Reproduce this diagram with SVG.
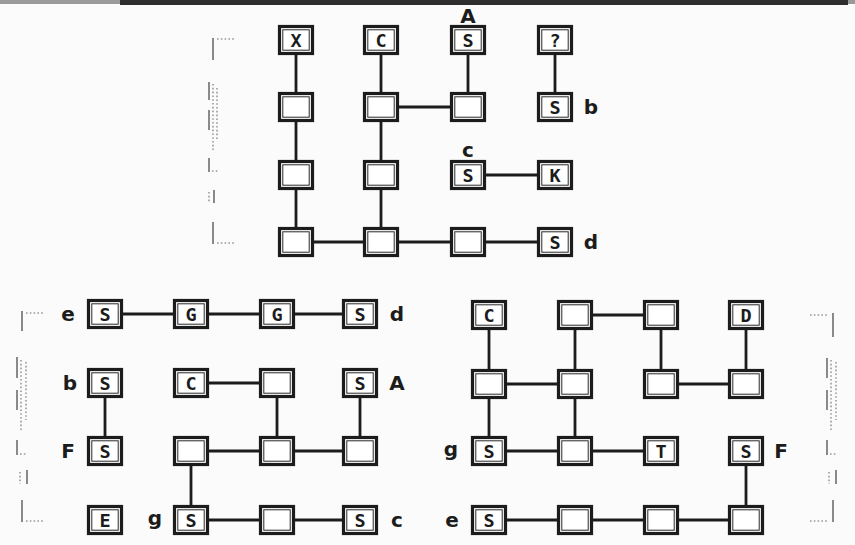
<svg xmlns="http://www.w3.org/2000/svg" xmlns:xlink="http://www.w3.org/1999/xlink" width="855" height="545" viewBox="0 0 855 545">
<style>
.bg{fill:#fbfbfb}
.con line{stroke:#1c1c1c;stroke-width:2.8;stroke-linecap:square}
.ob{fill:#ffffff;stroke:#1c1c1c;stroke-width:3.2}
.ib{fill:none;stroke:#2a2a2a;stroke-width:1}
.t{font-family:"DejaVu Sans Mono","Liberation Mono",monospace;font-weight:bold;font-size:18.5px;fill:#1c1c1c;text-anchor:middle}
.l{font-family:"DejaVu Sans","Liberation Sans",sans-serif;font-weight:bold;font-size:20px;fill:#1c1c1c;text-anchor:middle}
.br line{stroke:#8a8a8a;stroke-width:2}
.br .d{stroke:#9a9a9a;stroke-width:1.6;stroke-dasharray:1.6 2.2}
</style>
<defs>
<g id="box"><rect class="ob" x="-16.5" y="-13.5" width="33" height="27"/><rect class="ib" x="-13.2" y="-10.2" width="26.4" height="20.4"/></g>
</defs>
<rect class="bg" x="0" y="0" width="855" height="545"/>
<rect x="0" y="0" width="855" height="4" fill="#9a9a9a"/>
<rect x="120" y="0" width="728" height="5" fill="#2e2e2e"/>

<g id="brackets" class="br">
<line x1="213" y1="38" x2="213" y2="60"/><line class="d" x1="217" y1="39" x2="234" y2="39"/>
<line x1="209" y1="82" x2="209" y2="100"/><line class="d" x1="213" y1="84" x2="213" y2="150"/><line class="d" x1="217" y1="88" x2="217" y2="140"/><line x1="209" y1="110" x2="209" y2="130"/>
<line x1="209" y1="158" x2="209" y2="172"/><line class="d" x1="212" y1="171" x2="218" y2="171"/>
<line x1="214" y1="190" x2="214" y2="203"/><line class="d" x1="209" y1="192" x2="209" y2="203"/>
<line x1="213" y1="222" x2="213" y2="244"/><line class="d" x1="217" y1="243" x2="236" y2="243"/>
<line x1="22" y1="311" x2="22" y2="331"/><line class="d" x1="26" y1="313" x2="43" y2="313"/>
<line x1="17" y1="357" x2="17" y2="378"/><line class="d" x1="21" y1="360" x2="21" y2="430"/><line class="d" x1="26" y1="362" x2="26" y2="420"/><line x1="17" y1="390" x2="17" y2="410"/>
<line x1="17" y1="440" x2="17" y2="455"/><line class="d" x1="20" y1="454" x2="27" y2="454"/>
<line x1="27" y1="470" x2="27" y2="484"/><line class="d" x1="20" y1="472" x2="20" y2="484"/>
<line x1="22" y1="500" x2="22" y2="522"/><line class="d" x1="26" y1="521" x2="44" y2="521"/>
<line x1="833" y1="313" x2="833" y2="337"/><line class="d" x1="810" y1="315" x2="829" y2="315"/>
<line x1="827" y1="358" x2="827" y2="378"/><line class="d" x1="831" y1="360" x2="831" y2="430"/><line class="d" x1="836" y1="362" x2="836" y2="420"/><line x1="827" y1="390" x2="827" y2="410"/>
<line x1="827" y1="440" x2="827" y2="455"/><line class="d" x1="830" y1="454" x2="836" y2="454"/>
<line x1="836" y1="470" x2="836" y2="484"/><line class="d" x1="829" y1="472" x2="829" y2="484"/>
<line x1="833" y1="500" x2="833" y2="522"/><line class="d" x1="810" y1="521" x2="829" y2="521"/>
</g>

<g id="connectors" class="con">
<line x1="296" y1="40" x2="296" y2="242"/>
<line x1="381" y1="40" x2="381" y2="242"/>
<line x1="381" y1="107" x2="468" y2="107"/>
<line x1="468" y1="40" x2="468" y2="107"/>
<line x1="555" y1="40" x2="555" y2="107"/>
<line x1="468" y1="175" x2="555" y2="175"/>
<line x1="296" y1="242" x2="555" y2="242"/>
<line x1="105" y1="314" x2="360" y2="314"/>
<line x1="105" y1="383" x2="105" y2="451"/>
<line x1="191" y1="383" x2="277" y2="383"/>
<line x1="277" y1="383" x2="277" y2="451"/>
<line x1="360" y1="383" x2="360" y2="451"/>
<line x1="191" y1="451" x2="360" y2="451"/>
<line x1="191" y1="451" x2="191" y2="520"/>
<line x1="191" y1="520" x2="360" y2="520"/>
<line x1="489" y1="315" x2="489" y2="451"/>
<line x1="489" y1="384" x2="575" y2="384"/>
<line x1="575" y1="315" x2="575" y2="451"/>
<line x1="575" y1="315" x2="661" y2="315"/>
<line x1="661" y1="315" x2="661" y2="384"/>
<line x1="661" y1="384" x2="746" y2="384"/>
<line x1="746" y1="315" x2="746" y2="384"/>
<line x1="489" y1="451" x2="661" y2="451"/>
<line x1="746" y1="451" x2="746" y2="520"/>
<line x1="489" y1="520" x2="746" y2="520"/>
</g>

<g id="t11"><use xlink:href="#box" x="296" y="40"/><text class="t" x="296" y="47">X</text></g>
<g id="t12"><use xlink:href="#box" x="381" y="40"/><text class="t" x="381" y="47">C</text></g>
<g id="t13"><use xlink:href="#box" x="468" y="40"/><text class="t" x="468" y="47">S</text><text class="l" x="468" y="23">A</text></g>
<g id="t14"><use xlink:href="#box" x="555" y="40"/><text class="t" x="555" y="47">?</text></g>
<g id="t21"><use xlink:href="#box" x="296" y="107"/></g>
<g id="t22"><use xlink:href="#box" x="381" y="107"/></g>
<g id="t23"><use xlink:href="#box" x="468" y="107"/></g>
<g id="t24"><use xlink:href="#box" x="555" y="107"/><text class="t" x="555" y="114">S</text><text class="l" x="591" y="114">b</text></g>
<g id="t31"><use xlink:href="#box" x="296" y="175"/></g>
<g id="t32"><use xlink:href="#box" x="381" y="175"/></g>
<g id="t33"><use xlink:href="#box" x="468" y="175"/><text class="t" x="468" y="182">S</text><text class="l" x="468" y="157">c</text></g>
<g id="t34"><use xlink:href="#box" x="555" y="175"/><text class="t" x="555" y="182">K</text></g>
<g id="t41"><use xlink:href="#box" x="296" y="242"/></g>
<g id="t42"><use xlink:href="#box" x="381" y="242"/></g>
<g id="t43"><use xlink:href="#box" x="468" y="242"/></g>
<g id="t44"><use xlink:href="#box" x="555" y="242"/><text class="t" x="555" y="249">S</text><text class="l" x="591" y="249">d</text></g>

<g id="l11"><use xlink:href="#box" x="105" y="314"/><text class="t" x="105" y="321">S</text><text class="l" x="68" y="321">e</text></g>
<g id="l12"><use xlink:href="#box" x="191" y="314"/><text class="t" x="191" y="321">G</text></g>
<g id="l13"><use xlink:href="#box" x="277" y="314"/><text class="t" x="277" y="321">G</text></g>
<g id="l14"><use xlink:href="#box" x="360" y="314"/><text class="t" x="360" y="321">S</text><text class="l" x="397" y="321">d</text></g>
<g id="l21"><use xlink:href="#box" x="105" y="383"/><text class="t" x="105" y="390">S</text><text class="l" x="70" y="390">b</text></g>
<g id="l22"><use xlink:href="#box" x="191" y="383"/><text class="t" x="191" y="390">C</text></g>
<g id="l23"><use xlink:href="#box" x="277" y="383"/></g>
<g id="l24"><use xlink:href="#box" x="360" y="383"/><text class="t" x="360" y="390">S</text><text class="l" x="397" y="390">A</text></g>
<g id="l31"><use xlink:href="#box" x="105" y="451"/><text class="t" x="105" y="458">S</text><text class="l" x="68" y="458">F</text></g>
<g id="l32"><use xlink:href="#box" x="191" y="451"/></g>
<g id="l33"><use xlink:href="#box" x="277" y="451"/></g>
<g id="l34"><use xlink:href="#box" x="360" y="451"/></g>
<g id="l41"><use xlink:href="#box" x="105" y="520"/><text class="t" x="105" y="527">E</text></g>
<g id="l42"><use xlink:href="#box" x="191" y="520"/><text class="t" x="191" y="527">S</text><text class="l" x="155" y="525">g</text></g>
<g id="l43"><use xlink:href="#box" x="277" y="520"/></g>
<g id="l44"><use xlink:href="#box" x="360" y="520"/><text class="t" x="360" y="527">S</text><text class="l" x="397" y="527">c</text></g>

<g id="r11"><use xlink:href="#box" x="489" y="315"/><text class="t" x="489" y="322">C</text></g>
<g id="r12"><use xlink:href="#box" x="575" y="315"/></g>
<g id="r13"><use xlink:href="#box" x="661" y="315"/></g>
<g id="r14"><use xlink:href="#box" x="746" y="315"/><text class="t" x="746" y="322">D</text></g>
<g id="r21"><use xlink:href="#box" x="489" y="384"/></g>
<g id="r22"><use xlink:href="#box" x="575" y="384"/></g>
<g id="r23"><use xlink:href="#box" x="661" y="384"/></g>
<g id="r24"><use xlink:href="#box" x="746" y="384"/></g>
<g id="r31"><use xlink:href="#box" x="489" y="451"/><text class="t" x="489" y="458">S</text><text class="l" x="451" y="456">g</text></g>
<g id="r32"><use xlink:href="#box" x="575" y="451"/></g>
<g id="r33"><use xlink:href="#box" x="661" y="451"/><text class="t" x="661" y="458">T</text></g>
<g id="r34"><use xlink:href="#box" x="746" y="451"/><text class="t" x="746" y="458">S</text><text class="l" x="781" y="458">F</text></g>
<g id="r41"><use xlink:href="#box" x="489" y="520"/><text class="t" x="489" y="527">S</text><text class="l" x="452" y="527">e</text></g>
<g id="r42"><use xlink:href="#box" x="575" y="520"/></g>
<g id="r43"><use xlink:href="#box" x="661" y="520"/></g>
<g id="r44"><use xlink:href="#box" x="746" y="520"/></g>
</svg>
